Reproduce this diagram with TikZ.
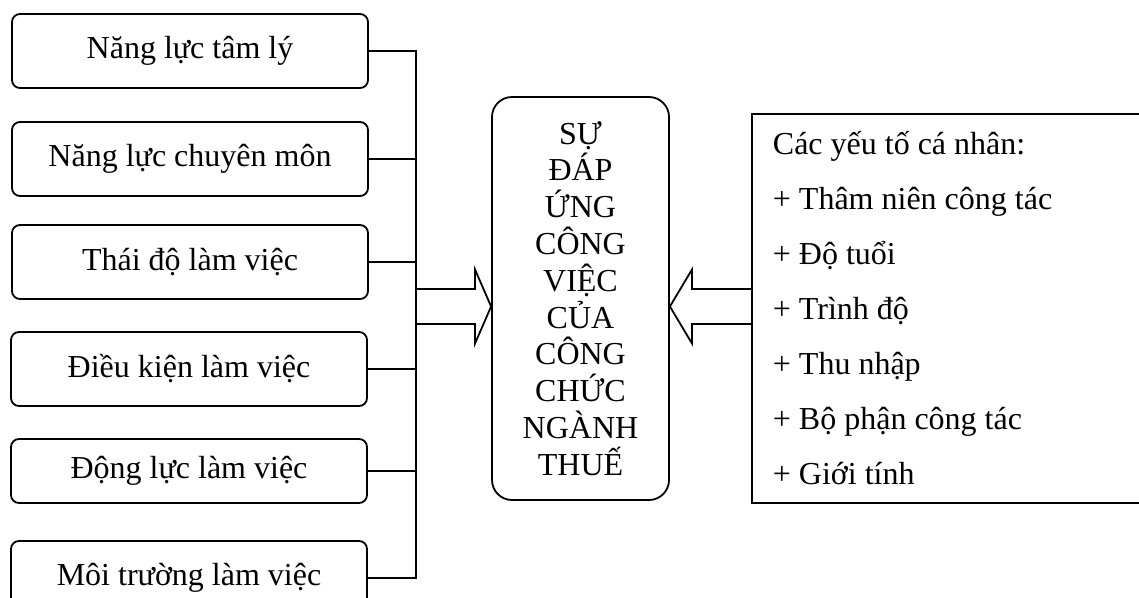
\documentclass[tikz,border=0pt]{standalone}
\usepackage{fontspec}
\setmainfont{Liberation Serif}
\usetikzlibrary{positioning}

\begin{document}
\begin{tikzpicture}[
  x=0.5pt, y=-0.5pt,
  factor/.style={draw, line width=0.9pt, rounded corners=4pt, minimum width=178pt, minimum height=37pt, align=center, font=\fontsize{16}{19}\selectfont},
  core/.style={draw, line width=0.9pt, rounded corners=10pt, minimum width=88.5pt, minimum height=201.5pt, align=center, font=\fontsize{16}{18.4}\selectfont},
  listbox/.style={draw, line width=0.9pt, anchor=north west, text width=210pt, inner xsep=10.5pt, minimum height=194.5pt, align=flush left, font=\fontsize{16}{27.5}\selectfont},
  link/.style={line width=1pt},
  fatarr/.style={line width=0.9pt, line join=miter}
]
\useasboundingbox (0,0) rectangle (1139,598);
\clip (0,0) rectangle (1139,598);

\node[factor] (tamly) at (190,51) {Năng lực tâm lý};
\node[factor] (chuyenmon) at (190,159) {Năng lực chuyên môn};
\node[factor] (thaido) at (190,262) {Thái độ làm việc};
\node[factor] (dieukien) at (189,369) {Điều kiện làm việc};
\node[factor, minimum height=32pt] (dongluc) at (189,471) {Động lực làm việc};
\node[factor] (moitruong) at (189,578) {Môi trường làm việc};

\node[core] (dapung) at (580.5,298.5) {SỰ\\ ĐÁP\\ ỨNG\\ CÔNG\\ VIỆC\\ CỦA\\ CÔNG\\ CHỨC\\ NGÀNH\\ THUẾ};

\node[listbox] (canhan) at (751,113) {Các yếu tố cá nhân:\\ + Thâm niên công tác\\ + Độ tuổi\\ + Trình độ\\ + Thu nhập\\ + Bộ phận công tác\\ + Giới tính};

% trunk on the left
\coordinate (trunk) at (416,0);
\draw[link] (tamly.east) -- (tamly.east -| trunk) -- (moitruong.east -| trunk) -- (moitruong.east);
\draw[link] (chuyenmon.east) -- (chuyenmon.east -| trunk);
\draw[link] (thaido.east) -- (thaido.east -| trunk);
\draw[link] (dieukien.east) -- (dieukien.east -| trunk);
\draw[link] (dongluc.east) -- (dongluc.east -| trunk);

% block arrows
\draw[fatarr] (trunk |- 0,289) -- (475,289) -- (475,269.5) -- (dapung.west |- 0,306.5) -- (475,343.5) -- (475,324) -- (trunk |- 0,324);
\draw[fatarr] (canhan.west |- 0,289) -- (692,289) -- (692,269.5) -- (dapung.east |- 0,306.5) -- (692,343.5) -- (692,324) -- (canhan.west |- 0,324);
\end{tikzpicture}
\end{document}
